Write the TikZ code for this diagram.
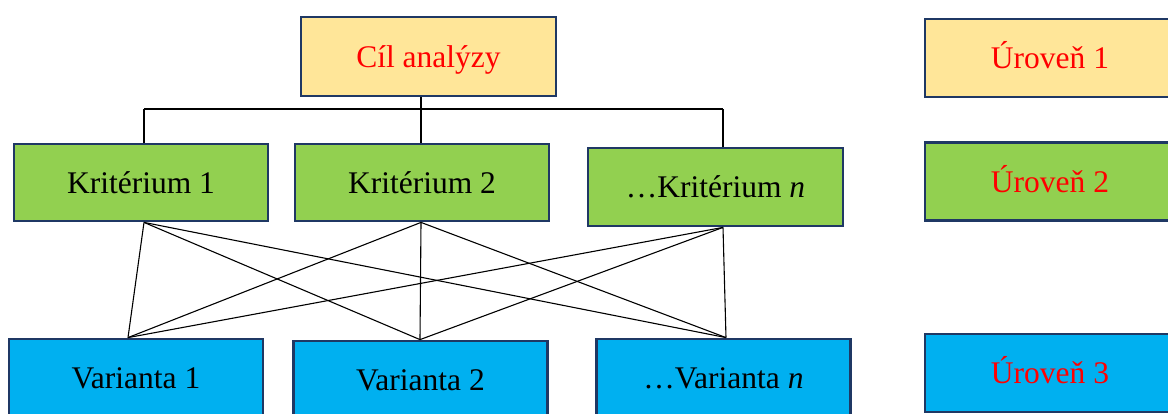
\documentclass[tikz,border=0pt]{standalone}
\usepackage{fontspec}
\setmainfont{Liberation Serif}
\definecolor{boxyellow}{HTML}{FFE699}
\definecolor{boxgreen}{HTML}{92D050}
\definecolor{boxblue}{HTML}{00B0F0}
\definecolor{boxborder}{HTML}{1F3864}
\definecolor{lvlred}{HTML}{FF0000}
\begin{document}
\begin{tikzpicture}[x=1pt,y=-1pt,
  box/.style={draw=boxborder, line width=2.8pt, minimum width=254pt, minimum height=77pt,
    inner sep=0pt, text height=21.5pt, text depth=0pt,
    font=\fontsize{31.5}{36}\selectfont, anchor=center},
  yel/.style={box, fill=boxyellow, text=lvlred},
  grn/.style={box, fill=boxgreen},
  blu/.style={box, fill=boxblue},
  lvl/.style={text=lvlred, minimum width=250pt},
  conn/.style={draw=black, line width=1.1pt}
]
\clip (0,0) rectangle (1168,413);
\useasboundingbox (0,0) rectangle (1168,413);
% level 1
\node[yel, minimum width=255pt, minimum height=79pt] (c) at (428.5,56.5) {Cíl analýzy};
% level 2
\node[grn] (k1) at (141,182.5) {Kritérium 1};
\node[grn] (k2) at (422,182.5) {Kritérium 2};
\node[grn, minimum width=255pt, minimum height=78pt] (k3) at (715.5,187) {\ldots Kritérium \textit{n}};
% level 3
\node[blu, minimum height=78pt] (v1) at (136,378) {Varianta 1};
\node[blu, minimum height=78pt] (v2) at (420.5,380) {Varianta 2};
\node[blu, minimum height=78pt] (v3) at (723.5,378) {\ldots Varianta \textit{n}};
% level labels
\node[yel, lvl, minimum height=78pt] (u1) at (1050,58) {Úroveň 1};
\node[grn, lvl, text=lvlred, minimum height=78pt] (u2) at (1050,181.5) {Úroveň 2};
\node[blu, lvl, text=lvlred, minimum height=78pt] (u3) at (1050,373) {Úroveň 3};
% tree
\coordinate (hl) at (144,109);
\coordinate (hr) at (723,109);
\draw[conn] (hl) -- (hr);
\draw[conn] ([xshift=-7.5pt]c.south) -- ([xshift=-1pt]k2.north);
\draw[conn] (hl) -- ([xshift=3pt]k1.north);
\draw[conn] (hr) -- ([xshift=7.5pt]k3.north);
% cross connectors
\coordinate (a1) at ([xshift=3pt]k1.south);
\coordinate (a2) at ([xshift=-1pt]k2.south);
\coordinate (a3) at ([xshift=7.5pt]k3.south);
\coordinate (b1) at ([xshift=-8pt]v1.north);
\coordinate (b2) at ([xshift=-0.5pt]v2.north);
\coordinate (b3) at ([xshift=2.5pt]v3.north);
\foreach \a in {a1,a2,a3}{
  \foreach \b in {b1,b2,b3}{
    \draw[conn] (\a) -- (\b);
  }
}
\end{tikzpicture}
\end{document}
